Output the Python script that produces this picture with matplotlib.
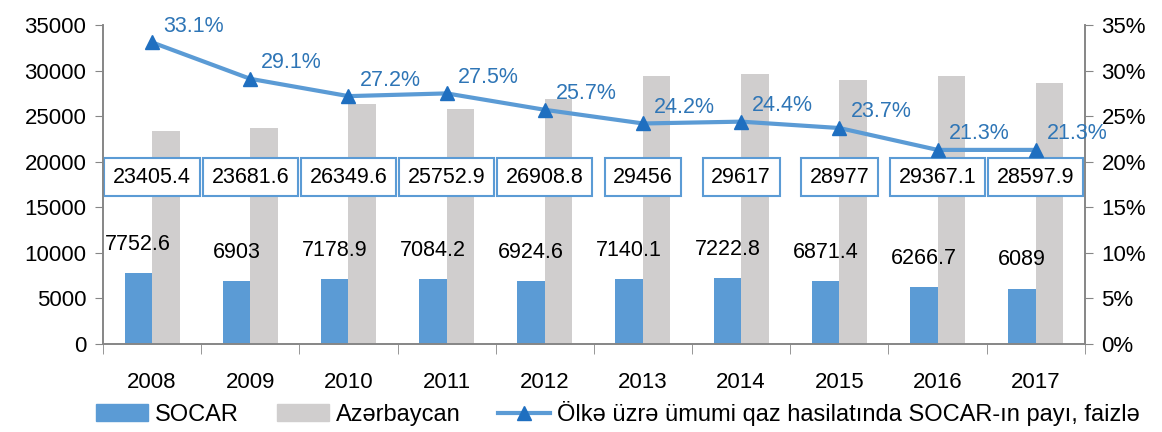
import matplotlib

matplotlib.use("Agg")

import matplotlib.pyplot as plt
from matplotlib.lines import Line2D
from matplotlib.patches import Patch
import numpy as np

years = ["2008", "2009", "2010", "2011", "2012", "2013", "2014", "2015", "2016", "2017"]
socar = [7752.6, 6903, 7178.9, 7084.2, 6924.6, 7140.1, 7222.8, 6871.4, 6266.7, 6089]
azerbaijan = [23405.4, 23681.6, 26349.6, 25752.9, 26908.8, 29456, 29617, 28977, 29367.1, 28597.9]
azerbaijan_labels = ["23405.4", "23681.6", "26349.6", "25752.9", "26908.8", "29456", "29617", "28977", "29367.1", "28597.9"]
socar_labels = ["7752.6", "6903", "7178.9", "7084.2", "6924.6", "7140.1", "7222.8", "6871.4", "6266.7", "6089"]
share = [33.1, 29.1, 27.2, 27.5, 25.7, 24.2, 24.4, 23.7, 21.3, 21.3]

BLUE = "#5B9BD5"
GREY = "#D0CECE"
MARKER = "#1F6FC0"
LABEL_BLUE = "#2E75B6"
AXIS = "#868686"

plt.rcParams["font.family"] = ["Liberation Sans", "DejaVu Sans"]

fig = plt.figure(figsize=(11.62, 4.32), dpi=100)
ax = fig.add_axes([0.0886, 0.2037, 0.845, 0.7383])
ax2 = ax.twinx()

x = np.arange(len(years))
w = 0.28
ax.bar(x - w / 2, socar, w, color=BLUE, zorder=2)
ax.bar(x + w / 2, azerbaijan, w, color=GREY, zorder=2)

for xi, val, lab in zip(x, socar, socar_labels):
    ax.annotate(lab, (xi - w / 2, val), xytext=(0, 13), textcoords="offset points",
                ha="center", va="bottom", fontsize=15.5, color="black")

for xi, lab in zip(x, azerbaijan_labels):
    ax.text(xi, 18300, lab, ha="center", va="center", fontsize=15.5, color="black", zorder=5,
            bbox=dict(boxstyle="square,pad=0.4", fc="white", ec=BLUE, lw=1.5))

ax.set_xlim(-0.5, len(years) - 0.5)
ax.set_ylim(0, 35000)
ax.set_yticks(np.arange(0, 35001, 5000))
ax.set_xticks(x)
ax.set_xticklabels(years)
ax.set_xticks(np.arange(-0.5, len(years), 1), minor=True)
ax.tick_params(axis="x", which="major", length=0, pad=20, labelsize=16)
ax.tick_params(axis="x", which="minor", length=7, color=AXIS, direction="out")
ax.tick_params(axis="y", length=6, color=AXIS, labelsize=16, pad=6)

ax2.plot(x, share, color=BLUE, lw=3, marker="^", ms=10, mfc=MARKER, mec=MARKER, zorder=4)
for xi, val in zip(x, share):
    ax2.annotate(f"{val:.1f}%", (xi, val), xytext=(8, 4), textcoords="offset points",
                 ha="left", va="bottom", fontsize=15.5, color=LABEL_BLUE)
ax2.set_ylim(0, 35)
ax2.set_yticks(np.arange(0, 36, 5))
ax2.set_yticklabels([f"{v}%" for v in range(0, 36, 5)])
ax2.tick_params(axis="y", length=6, color=AXIS, labelsize=16, pad=6)

for a in (ax, ax2):
    a.spines["top"].set_visible(False)
    for side in ("left", "right", "bottom"):
        a.spines[side].set_color(AXIS)
        a.spines[side].set_linewidth(1.2)

handles = [
    Patch(color=BLUE),
    Patch(color=GREY),
    Line2D([0], [0], color=BLUE, lw=3, marker="^", ms=10, mfc=MARKER, mec=MARKER),
]
fig.legend(handles, ["SOCAR", "Azərbaycan", "Ölkə üzrə ümumi qaz hasilatında SOCAR-ın payı, faizlə"],
           loc="lower center", bbox_to_anchor=(0.532, -0.035), ncol=3, frameon=False,
           fontsize=17, handlelength=2.2, handletextpad=0.3, columnspacing=1.6)

fig.savefig("out.png", dpi=100)
